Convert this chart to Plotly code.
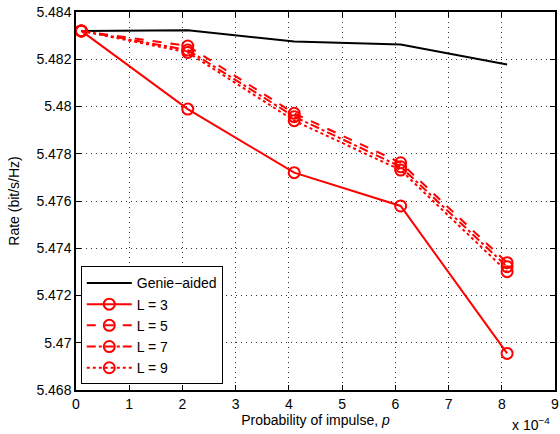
import plotly.graph_objects as go

p_vals = [0.1, 2.1, 4.1, 6.1, 8.1]  # units of 1e-4
genie = [5.48320, 5.48323, 5.48275, 5.48262, 5.48178]
L3 = [5.48320, 5.47989, 5.47720, 5.47579, 5.46955]
L5 = [5.48320, 5.48256, 5.47971, 5.47762, 5.47339]
L7 = [5.48320, 5.48239, 5.47957, 5.47745, 5.47322]
L9 = [5.48320, 5.48229, 5.47940, 5.47731, 5.47301]

x_ticks = list(range(0, 10))
y_ticks = [5.468, 5.47, 5.472, 5.474, 5.476, 5.478, 5.48, 5.482, 5.484]
y_tick_text = ["5.468", "5.47", "5.472", "5.474", "5.476", "5.478", "5.48", "5.482", "5.484"]

red = "#ff0000"
marker = dict(symbol="circle-open", size=11, color=red, line=dict(width=2, color=red))

fig = go.Figure()
fig.add_trace(go.Scatter(x=p_vals, y=genie, mode="lines", name="Genie\u2212aided",
                         line=dict(color="black", width=2)))
fig.add_trace(go.Scatter(x=p_vals, y=L3, mode="lines+markers", name="L = 3",
                         line=dict(color=red, width=2, dash="solid"), marker=marker))
fig.add_trace(go.Scatter(x=p_vals, y=L5, mode="lines+markers", name="L = 5",
                         line=dict(color=red, width=2, dash="dash"), marker=marker))
fig.add_trace(go.Scatter(x=p_vals, y=L7, mode="lines+markers", name="L = 7",
                         line=dict(color=red, width=2, dash="dashdot"), marker=marker))
fig.add_trace(go.Scatter(x=p_vals, y=L9, mode="lines+markers", name="L = 9",
                         line=dict(color=red, width=2, dash="dot"), marker=marker))

axis_common = dict(
    showline=True, linecolor="black", linewidth=1.5, mirror="allticks",
    ticks="inside", ticklen=5, tickcolor="black", automargin=False,
    showgrid=True, gridcolor="#333", griddash="1px,4px", gridwidth=1,
    zeroline=False, tickfont=dict(size=14, color="black"),
)

fig.update_layout(
    width=560, height=434,
    margin=dict(l=76, r=5, t=12, b=44),
    paper_bgcolor="white", plot_bgcolor="white",
    font=dict(family="Liberation Sans, Arial, sans-serif", size=14, color="black"),
    xaxis=dict(range=[0, 9], tickvals=x_ticks, ticktext=[str(t) for t in x_ticks],
               title=dict(text="Probability of impulse, <i>p</i>", font=dict(size=14), standoff=2),
               **axis_common),
    yaxis=dict(range=[5.468, 5.484], tickvals=y_ticks, ticktext=y_tick_text,
               title=dict(text="Rate (bit/s/Hz)", font=dict(size=14), standoff=14),
               **axis_common),
    legend=dict(x=0.01, y=0.015, xanchor="left", yanchor="bottom",
                bordercolor="black", borderwidth=1, bgcolor="white",
                font=dict(size=14), tracegroupgap=0, itemwidth=45),
    showlegend=True,
)
fig.add_annotation(text="x 10<sup>\u22124</sup>", xref="paper", yref="paper",
                   x=0.993, y=-0.06, xanchor="right", yanchor="top",
                   showarrow=False, font=dict(size=14))

fig.write_html("out.html", config={"displayModeBar": False},
               post_script="document.body.style.margin='0';")
